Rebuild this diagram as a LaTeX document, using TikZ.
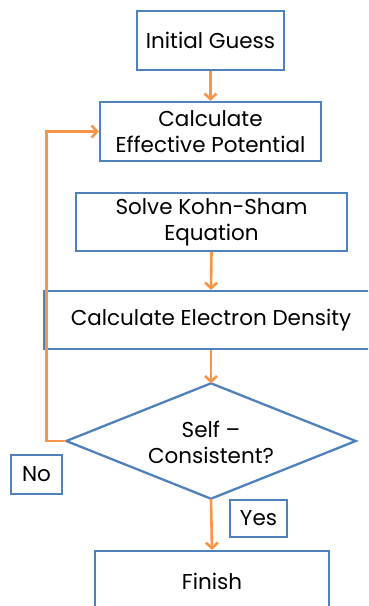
\documentclass[tikz,border=0pt]{standalone}
\usepackage{fontspec}
\setmainfont{Poppins}
\usetikzlibrary{arrows.meta}
\definecolor{bbox}{HTML}{4F81BD}
\definecolor{arr}{HTML}{F79646}
\begin{document}
\begin{tikzpicture}[x=1pt,y=-1pt,
  box/.style={draw=bbox, line width=2.3pt, inner sep=0pt, align=center, font=\fontsize{21.5}{26}\selectfont},
  lbl/.style={inner sep=0pt, align=center, font=\fontsize{21.5}{26}\selectfont},
  flow/.style={draw=arr, line width=2.6pt, -{Straight Barb[length=5.5pt,width=12pt]}}
  ]
\useasboundingbox (0,0) rectangle (368,606);
\clip (0,0) rectangle (368,606);
\node[box, minimum width=147, minimum height=59] (init) at (210.5,40.5) {Initial Guess};
\node[box, minimum width=221, minimum height=59] (pot) at (210.5,131.5) {Calculate\\Effective Potential};
\node[box, minimum width=271, minimum height=58] (ks) at (211.5,222) {Solve Kohn-Sham\\Equation};
\node[box, minimum width=334, minimum height=58] (dens) at (211,320) {Calculate Electron Density};
\node[minimum width=289, minimum height=115, inner sep=0pt] (d) at (211,441) {};
\draw[draw=bbox, line width=2.3pt, line join=miter] (d.north) -- (d.east) -- (d.south) -- (d.west) -- cycle;
\node[lbl] (dt) at (211,442) {Self –\\Consistent?};
\node[box, minimum width=51, minimum height=39] (no) at (36.5,474.5) {No};
\node[box, minimum width=57, minimum height=37] (yes) at (258.5,518.5) {Yes};
\node[box, minimum width=234, minimum height=60] (fin) at (212,581) {Finish};
\draw[flow] (init.south) -- (pot.north);
\draw[flow] (ks.south) -- (dens.north);
\draw[flow] (dens.south) -- (d.north);
\draw[flow] (d.south) -- (fin.north);
\draw[flow] (d.west) -- ++(-20,0) |- (pot.west);
\end{tikzpicture}
\end{document}
